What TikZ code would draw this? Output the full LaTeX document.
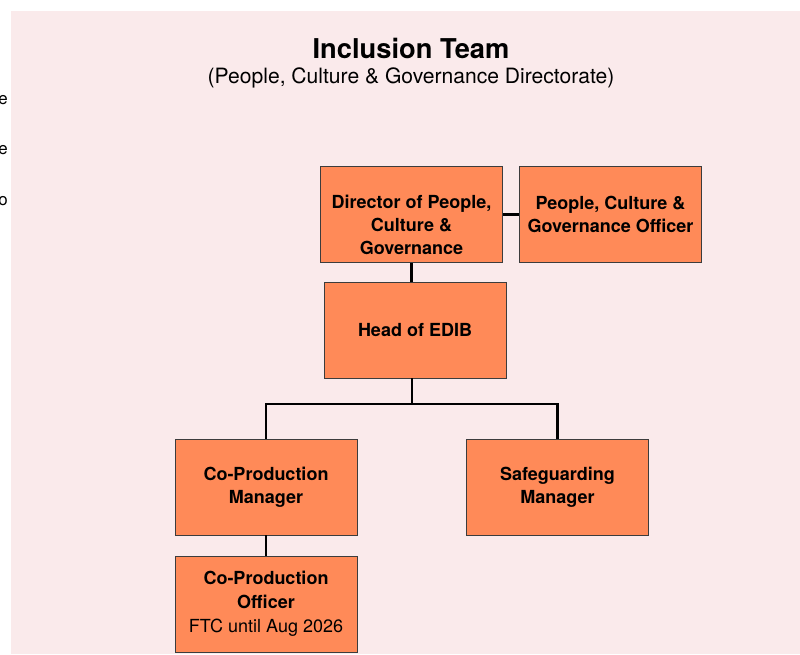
\documentclass[tikz,border=0pt]{standalone}
\usepackage{fontspec}
\setmainfont{TeX Gyre Heros}
\usepackage{xcolor}
\usetikzlibrary{positioning}

\definecolor{panelpink}{RGB}{250,234,235}
\definecolor{roleorange}{RGB}{255,138,88}
\definecolor{edgegrey}{RGB}{60,60,60}

\begin{document}
\begin{tikzpicture}[
    x=0.025cm, y=-0.025cm,
    rolefont/.style={font=\fontsize{12.8}{16.5}\selectfont\bfseries},
    role/.style={rectangle, draw=edgegrey, fill=roleorange, line width=0.6pt,
                 minimum width=4.55cm, minimum height=2.4cm, align=center,
                 inner sep=2pt, rolefont},
    conn/.style={line width=2.1pt, color=black},
    frag/.style={anchor=east, inner sep=0pt, font=\fontsize{12}{14}\selectfont}
]
\useasboundingbox (0,0) rectangle (800,654);
\fill[panelpink] (11,11) rectangle (800,654);

% cut-off text at the left edge
\node[frag] (fragA) at (8,100) {e};
\node[frag] (fragB) at (8,150) {e};
\node[frag] (fragC) at (8,201) {o};

% Heading
\node[font=\fontsize{19.4}{22}\selectfont\bfseries] (title) at (411,48) {Inclusion Team};
\node[font=\fontsize{15}{18}\selectfont] (subtitle) at (411,78)
      {(People, Culture \& Governance Directorate)};

% Roles
\node[role] (director) at (411.5,214.5) {};
\node[rolefont, align=center] (directortext) at (411.5,225)
      {Director of People,\\Culture \&\\Governance};
\node[role] (pcgofficer) at (610.5,214.5) {People, Culture \&\\Governance Officer};
\node[role] (head) at (415,330) {Head of EDIB};
\node[role] (copmanager) at (266,487) {Co-Production\\Manager};
\node[role] (safeguard) at (557.5,487) {Safeguarding\\Manager};
\node[role] (copofficer) at (266,604)
      {Co-Production\\Officer\\[1pt]{\mdseries FTC until Aug 2026}};

\coordinate (split) at (412,404);

% Lines
\draw[conn] (director.east) -- (pcgofficer.west);
\draw[conn] (director.south) -- (director.south |- head.north);
\draw[conn] (split |- head.south) -- (split);
\draw[conn] (copmanager.north) |- (split) -| (safeguard.north);
\draw[conn] (copmanager.south) -- (copofficer.north);

\end{tikzpicture}
\end{document}
